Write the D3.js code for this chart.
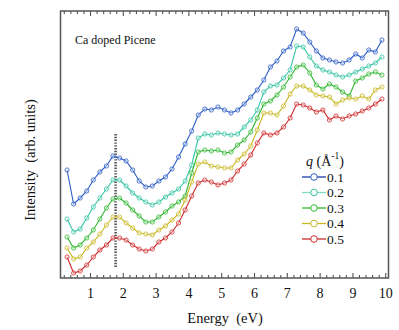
<!DOCTYPE html>
<html>
<head>
<meta charset="utf-8">
<script src="https://cdn.jsdelivr.net/npm/d3@7"></script>
<style>
  body { margin: 0; background: #fff; }
  svg text { font-family: "Liberation Serif", "DejaVu Serif", serif; fill: #111; }
</style>
</head>
<body>
<svg id="chart" width="399" height="330"></svg>
<script>
// energy grid (eV)
const energy = d3.range(0, 49).map(i => +(0.3 + i * 0.2).toFixed(1));
// intensities (arb. units)
const q01 = [108,74,80,87,98,106,112,122,120,117,108,97,91,92,97,101,109,121,134,147,163,169,168,171,168,165,168,174,181,188,198,211,217,227,231,249,245,236,227,220,218,216,215,218,224,220,228,226,238];
const q02 = [59,46,49,60,71,80,89,98,98,92,85,80,76,73,76,81,85,89,97,113,140,144,143,145,144,143,144,151,158,168,186,192,193,200,208,232,231,221,212,208,206,203,201,203,206,209,212,215,221];
const q03 = [41,30,33,40,48,59,70,79,80,75,68,62,56,56,61,66,72,76,82,105,126,128,127,128,125,126,133,138,146,160,174,177,183,191,201,211,213,205,193,189,194,191,186,182,197,200,204,206,203];
const q04 = [30,19,21,30,36,44,53,61,61,55,50,45,44,43,48,52,58,64,78,96,114,116,112,111,110,110,118,124,132,148,165,165,163,172,184,192,192,188,183,182,181,174,178,180,179,182,179,188,191];
const q05 = [21,5,7,13,21,28,33,40,40,38,33,29,27,29,36,40,46,55,68,82,95,98,96,93,95,98,107,114,123,135,145,143,145,151,160,174,173,170,166,168,158,162,159,162,164,167,170,174,179];

const seriesNames = ["0.1", "0.2", "0.3", "0.4", "0.5"];
const seriesValues = [q01, q02, q03, q04, q05];
const colors = ["#2a5cc6", "#35c4a4", "#2fb82f", "#c9b723", "#cf2b2b"];
const legendLineColors = ["#1a3ca8", "#7fdcc2", "#2fb82f", "#c9b723", "#cf2b2b"];

const majorTicks = d3.range(1, 11);
const minorTicks = d3.range(0.2, 10.05, 0.2).filter(v => Math.abs(v - Math.round(v)) > 0.01);

const markE = 1.78;
const markRange = [11, 145];

const width = 399, height = 330;
const margin = { top: 11, right: 10.5, bottom: 52, left: 60.5 };

const svg = d3.select("#chart");
const x = d3.scaleLinear().domain([0.1, 10.1]).range([margin.left, width - margin.right]);
const y = d3.scaleLinear().domain([0, 267]).range([height - margin.bottom, margin.top]);

// frame
svg.append("rect")
    .attr("x", x.range()[0]).attr("y", margin.top)
    .attr("width", x.range()[1] - x.range()[0])
    .attr("height", y.range()[0] - y.range()[1])
    .attr("fill", "none").attr("stroke", "#555").attr("stroke-width", 1.5);

// ticks
function tickAxis(axis, ty, values, size, labels) {
    const g = svg.append("g")
        .attr("transform", "translate(0," + ty + ")")
        .call(axis(x).tickValues(values).tickSize(size).tickPadding(9)
            .tickFormat(labels ? d3.format("d") : ""));
    g.attr("font-family", null);
    g.select(".domain").remove();
    g.selectAll("line").attr("stroke", "#555").attr("stroke-width", 1.1);
    g.selectAll("text").attr("font-size", 14).attr("fill", "#111");
    return g;
}
const yb = y.range()[0], yt = y.range()[1];
tickAxis(d3.axisBottom, yb, majorTicks, -5, true)
    .selectAll("text").attr("y", 10);
tickAxis(d3.axisBottom, yb, minorTicks, -3, false);
tickAxis(d3.axisTop, yt, majorTicks, -5, false);
tickAxis(d3.axisTop, yt, minorTicks, -3, false);

// dotted guide
svg.append("line")
    .attr("x1", x(markE)).attr("x2", x(markE))
    .attr("y1", y(markRange[0])).attr("y2", y(markRange[1]))
    .attr("stroke", "#555").attr("stroke-width", 2.6)
    .attr("stroke-dasharray", "1.4,1.4");

// curves
const line = d3.line().x((d, i) => x(energy[i])).y(d => y(d));
seriesValues.forEach((vals, k) => {
    const g = svg.append("g");
    g.append("path").datum(vals)
        .attr("d", line).attr("fill", "none")
        .attr("stroke", colors[k]).attr("stroke-width", 1.1);
    g.selectAll("circle").data(vals).enter().append("circle")
        .attr("cx", (d, i) => x(energy[i])).attr("cy", d => y(d))
        .attr("r", 2.1)
        .attr("fill", "white").attr("fill-opacity", 0.35)
        .attr("stroke", colors[k]).attr("stroke-width", 0.8);
});

// annotation
svg.append("text").attr("x", 75).attr("y", 44)
    .attr("font-size", 12).text("Ca doped Picene");

// axis titles
svg.append("text").attr("x", 225).attr("y", 323)
    .attr("text-anchor", "middle").attr("font-size", 14.5)
    .attr("xml:space", "preserve").text("Energy  (eV)");
svg.append("text")
    .attr("transform", "translate(35,160) rotate(-90)")
    .attr("text-anchor", "middle").attr("font-size", 14.5)
    .attr("xml:space", "preserve").text("Intensity  (arb. units)");

// legend
const lg = svg.append("g");
const title = lg.append("text").attr("x", 306).attr("y", 166).attr("font-size", 14);
title.append("tspan").attr("font-style", "italic").text("q");
title.append("tspan").text(" (Å");
title.append("tspan").attr("font-size", 9.5).attr("dy", -7).text("-1");
title.append("tspan").attr("dy", 7).text(")");

seriesNames.forEach((name, k) => {
    const ly = 177 + k * 15.5;
    lg.append("line").attr("x1", 302).attr("x2", 326).attr("y1", ly).attr("y2", ly)
        .attr("stroke", legendLineColors[k]).attr("stroke-width", 1.3);
    lg.append("circle").attr("cx", 314).attr("cy", ly).attr("r", 3.3)
        .attr("fill", "white").attr("stroke", colors[k]).attr("stroke-width", 1);
    lg.append("text").attr("x", 327).attr("y", ly + 4.5)
        .attr("font-size", 13.5).text(name);
});
</script>
</body>
</html>
